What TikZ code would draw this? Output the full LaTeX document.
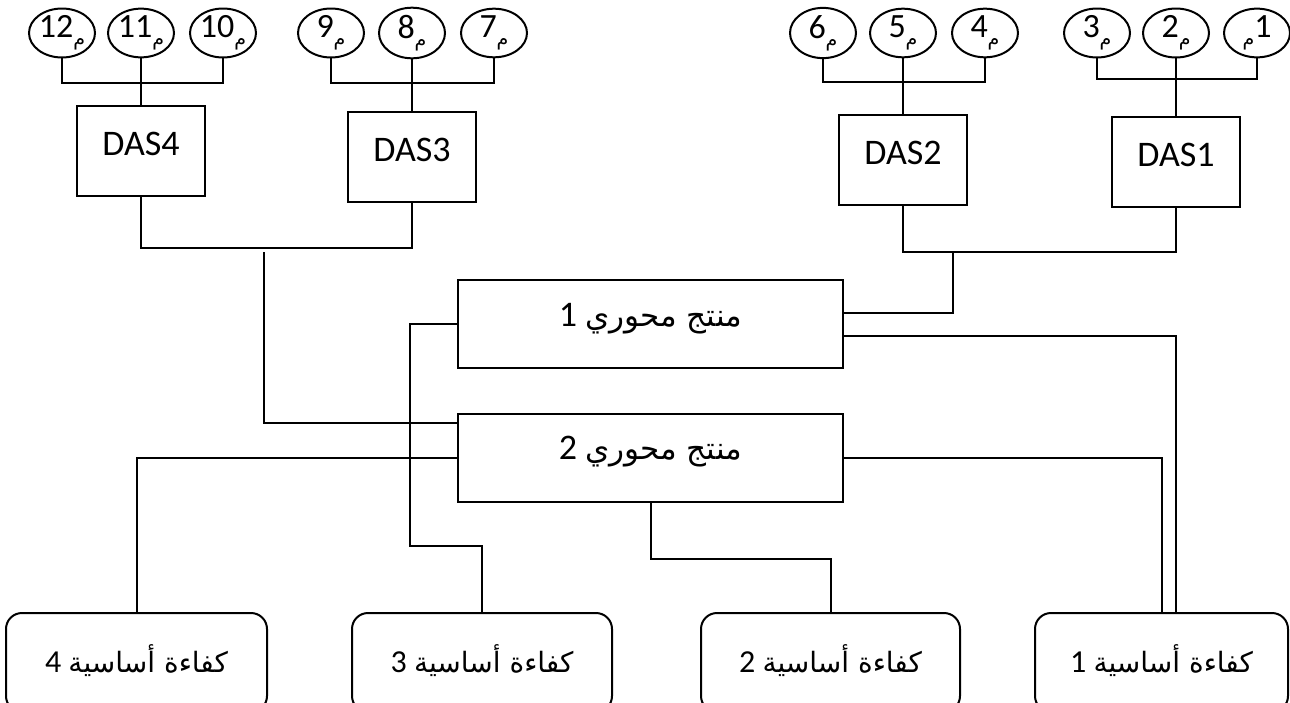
\documentclass[tikz,border=0pt]{standalone}
\usepackage{fontspec}
\setmainfont{Carlito}
\newfontfamily\arabicfont[Script=Arabic]{DejaVu Sans}
\TeXXeTstate=1
\usetikzlibrary{shapes.geometric}

% Arabic phrase set right to left, at a given size
\newcommand{\artext}[2][14pt]{{\arabicfont\fontsize{#1}{#1}\selectfont\beginR #2\endR}}
% small lowered meem used in the top labels
\newcommand{\mim}{\raisebox{-4pt}{\arabicfont\fontsize{9.5pt}{9.5pt}\selectfont م}}

\begin{document}
\begin{tikzpicture}[x=0.5pt,y=-0.5pt,line width=1pt,
  oval/.style={ellipse,draw,minimum width=33pt,minimum height=19pt,inner sep=0pt,
    font=\fontsize{17pt}{17pt}\selectfont},
  dasbox/.style={rectangle,draw,minimum width=64pt,minimum height=45pt,inner sep=0pt,
    font=\fontsize{18pt}{18pt}\selectfont,text height=11.6pt,text depth=7pt},
  corebox/.style={rectangle,draw,minimum width=192.5pt,minimum height=44pt,inner sep=0pt,
    font=\fontsize{18pt}{18pt}\selectfont,text height=11.4pt,text depth=9pt},
  skillbox/.style={rectangle,draw,rounded corners=8pt,minimum height=49.5pt,inner sep=0pt,
    font=\fontsize{16pt}{16pt}\selectfont,text height=10pt,text depth=0pt}]
\useasboundingbox (0,0) rectangle (1290,702);
\clip (0,0) rectangle (1290,702);

% activity ellipses
\node[oval] (e12) at (62,33)   {12\mim};
\node[oval] (e11) at (141,33)  {11\mim};
\node[oval] (e10) at (223,33)  {10\mim};
\node[oval] (e9)  at (331,33)  {9\mim};
\node[oval] (e8)  at (412,33)  {8\mim};
\node[oval] (e7)  at (494,33)  {7\mim};
\node[oval] (e6)  at (823,33)  {6\mim};
\node[oval] (e5)  at (903,33)  {5\mim};
\node[oval] (e4)  at (985,33)  {4\mim};
\node[oval] (e3)  at (1097,33) {3\mim};
\node[oval] (e2)  at (1176,33) {2\mim};
\node[oval] (e1)  at (1257,33) {\mim1};

% strategic activity domains
\node[dasbox] (das4) at (141,150.5) {DAS4};
\node[dasbox] (das3) at (412,157)   {DAS3};
\node[dasbox] (das2) at (903,159.5) {DAS2};
\node[dasbox] (das1) at (1176,162)  {DAS1};

% core products
\node[corebox] (m1) at (650.5,324)   {1\ \artext[15.5pt]{منتج محوري}};
\node[corebox] (m2) at (650.5,457.5) {2\ \artext[15.5pt]{منتج محوري}};

% core competences
\node[skillbox,minimum width=130.5pt] (k4) at (136.5,662.5)  {4\ \artext{كفاءة أساسية}};
\node[skillbox,minimum width=130pt]   (k3) at (482,662.5)    {3\ \artext{كفاءة أساسية}};
\node[skillbox,minimum width=129.5pt] (k2) at (830.5,662.5)  {2\ \artext{كفاءة أساسية}};
\node[skillbox,minimum width=126.5pt] (k1) at (1161.5,662.5) {1\ \artext{كفاءة أساسية}};

% activities to domains
\coordinate (busA) at (141,83);
\coordinate (busB) at (412,83);
\coordinate (busC) at (903,82);
\coordinate (busD) at (1176,79);
\draw (e12.south) |- (e10.south |- busA) -- (e10.south);
\draw (e11.south) -- (das4.north);
\draw (e9.south) |- (e7.south |- busB) -- (e7.south);
\draw (e8.south) -- (das3.north);
\draw (e6.south) |- (e4.south |- busC) -- (e4.south);
\draw (e5.south) -- (das2.north);
\draw (e3.south) |- (e1.south |- busD) -- (e1.south);
\draw (e2.south) -- (das1.north);

% domains to core products
\coordinate (joinL) at (264,248);
\coordinate (trunkL) at (264,252);
\draw (das4.south) |- (das3.south |- joinL) -- (das3.south);
\draw (trunkL) |- ([yshift=17.25pt]m2.west);
\coordinate (joinR) at (953,252);
\draw (das2.south) |- (das1.south |- joinR) -- (das1.south);
\draw (joinR) |- ([yshift=5.5pt]m1.east);

% core products to competences
\draw ([yshift=-6pt]m1.east) -| ([xshift=7.25pt]k1.north);
\draw (m2.east) -| (k1.north);
\draw (m2.south) -- ++(0,56) -| (k2.north);
\draw (m1.west) -| (410,546) -| (k3.north);
\draw (m2.west) -| (k4.north);
\end{tikzpicture}
\end{document}
